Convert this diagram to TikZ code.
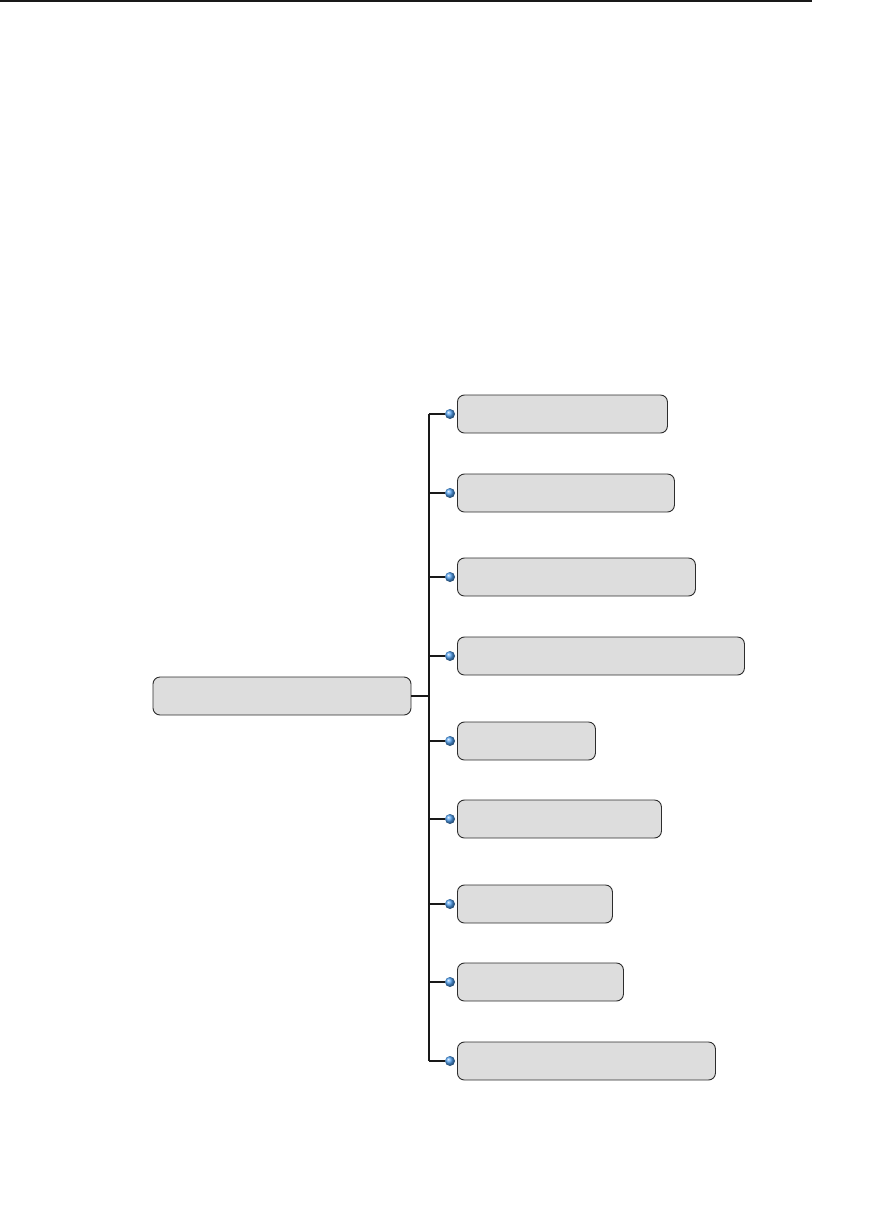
\documentclass[tikz,border=0pt]{standalone}
\usetikzlibrary{positioning,shadings}
\definecolor{boxgray}{RGB}{221,221,221}
\definecolor{edgegray}{RGB}{45,45,45}
\definecolor{knobblue}{RGB}{80,160,240}
\begin{document}
\begin{tikzpicture}[x=1pt,y=-1pt,
  card/.style={draw=edgegray, line width=0.9pt, rounded corners=7pt, fill=boxgray,
               minimum height=38pt, inner sep=0pt},
  rootcard/.style={card, minimum width=258pt},
  leafcard/.style={card, anchor=west},
  knob/.style={circle, inner sep=0pt, minimum size=10pt, shading=ball, ball color=knobblue},
  wire/.style={draw=black!90, line width=1.8pt},
  ]
  \useasboundingbox (0,0) rectangle (884,1212);
  % ---- page rule -----------------------------------------------------------
  \coordinate (ruleL) at (0,1);
  \coordinate (ruleR) at (812,1);
  \draw[line width=1.3pt, black!90] (ruleL) -- (ruleR);
  % ---- root ----------------------------------------------------------------
  \node[rootcard] (root) at (282,696) {};
  \coordinate (fork) at (429,696);
  % ---- leaves (centre y / right edge) --------------------------------------
  \foreach \i/\y/\r in {1/414/667, 2/493/674, 3/577/695, 4/656/744, 5/741/595,
                        6/819/661, 7/904/612, 8/982/623, 9/1061/715} {
    \pgfmathsetmacro{\w}{\r-457}
    \node[leafcard, minimum width=\w pt] (c\i) at (457,\y) {};
    \node[knob] (k\i) at (450,\y) {};
  }
  % ---- connectors ----------------------------------------------------------
  \draw[wire] (root.east) -- (fork);
  \draw[wire] (fork |- k1) -- (fork |- k9);
  \foreach \i in {1,...,9} { \draw[wire] (fork |- k\i) -- (k\i.west); }
\end{tikzpicture}
\end{document}
